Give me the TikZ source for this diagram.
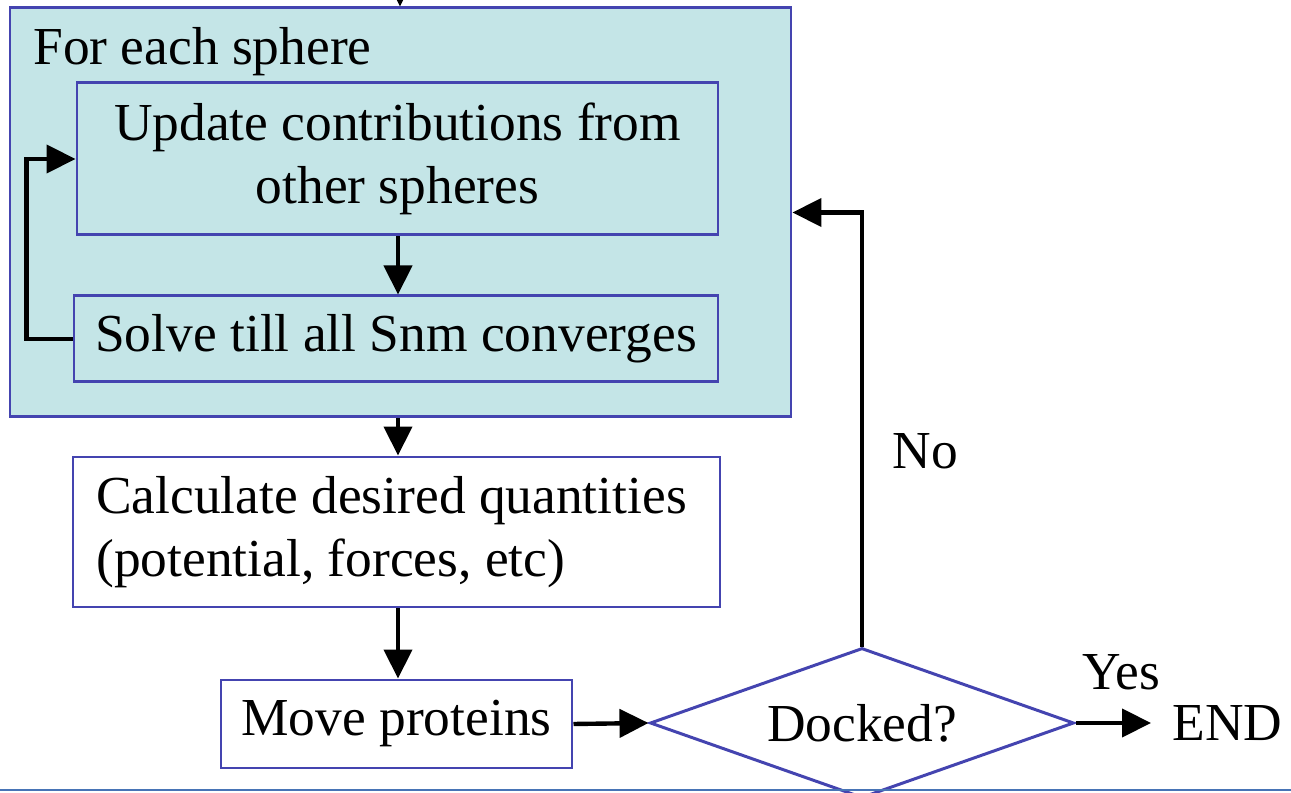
\documentclass[tikz,border=0pt]{standalone}
\usepackage{fontspec}
\setmainfont{Liberation Serif}
\usepackage{tikz}
\usetikzlibrary{shapes.geometric, arrows.meta, positioning}
\definecolor{boxblue}{RGB}{68, 68, 176}
\definecolor{loopteal}{RGB}{196, 229, 231}
\definecolor{rulesteel}{RGB}{72, 116, 182}

\begin{document}
\begin{tikzpicture}[
    every node/.style={font=\fontsize{30.4}{36}\selectfont},
    stepbox/.style={draw=boxblue, line width=1.7pt, inner sep=0pt},
    flow/.style={line width=2.5pt, -{Triangle[length=0.58cm, width=0.56cm]}},
]
    \useasboundingbox (0,0) rectangle (25.82,-15.86);

    % Sphere loop
    \node[stepbox, fill=loopteal, minimum width=15.62cm, minimum height=8.18cm] (sphere) at (8.01,-4.25) {};
    \node[anchor=west, inner sep=0pt] (spherelabel) at (0.66,-1.04) {For each sphere};
    \node[stepbox, fill=loopteal, minimum width=12.82cm, minimum height=3.04cm, align=center] (update) at (7.95,-3.18) {Update contributions from\\other spheres};
    \node[stepbox, fill=loopteal, minimum width=12.88cm, minimum height=1.72cm] (solve) at (7.92,-6.78) {Solve till all Snm converges};

    % Remaining steps
    \node[stepbox, fill=white, minimum width=12.94cm, minimum height=3cm] (calc) at (7.93,-10.64) {};
    \node[anchor=west, align=left, inner sep=0pt] (calctext) at (1.92,-10.64) {Calculate desired quantities\\(potential, forces, etc)};
    \node[stepbox, fill=white, minimum width=7.02cm, minimum height=1.76cm] (move) at (7.93,-14.48) {Move proteins};
    \node[draw=boxblue, line width=1.7pt, diamond, aspect=2.83, minimum width=8.48cm, minimum height=3cm, inner sep=0pt] (docked) at (17.24,-14.46) {Docked?};
    \node[anchor=west, inner sep=0pt] (finish) at (23.44,-14.46) {END};
    \coordinate (top) at (8.0,0.2);
    \coordinate (spine) at (7.96,0);
    \coordinate[left=0.42cm of finish.west] (endtip);

    % Connectors
    \draw[flow] (top) -- (sphere.north -| top);
    \draw[flow] (update.south -| spine) -- (solve.north -| spine);
    \draw[flow] (solve.west) -- ++(-0.92,0) |- (update.west);
    \draw[flow] (sphere.south -| spine) -- (calc.north -| spine);
    \draw[flow] (calc.south -| spine) -- (move.north -| spine);
    \draw[flow] (move.east) -- (docked.west);
    \draw[flow] (docked.east) -- (endtip) node[midway, above=0.62cm, xshift=0.16cm, inner sep=0pt] {Yes};
    \draw[flow] (docked.north) |- (sphere.east) node[pos=0.225, right=0.45cm] {No};

    % Bottom rule
    \draw[rulesteel, line width=1.7pt] (0,-15.8) -- (25.82,-15.8);
\end{tikzpicture}
\end{document}
